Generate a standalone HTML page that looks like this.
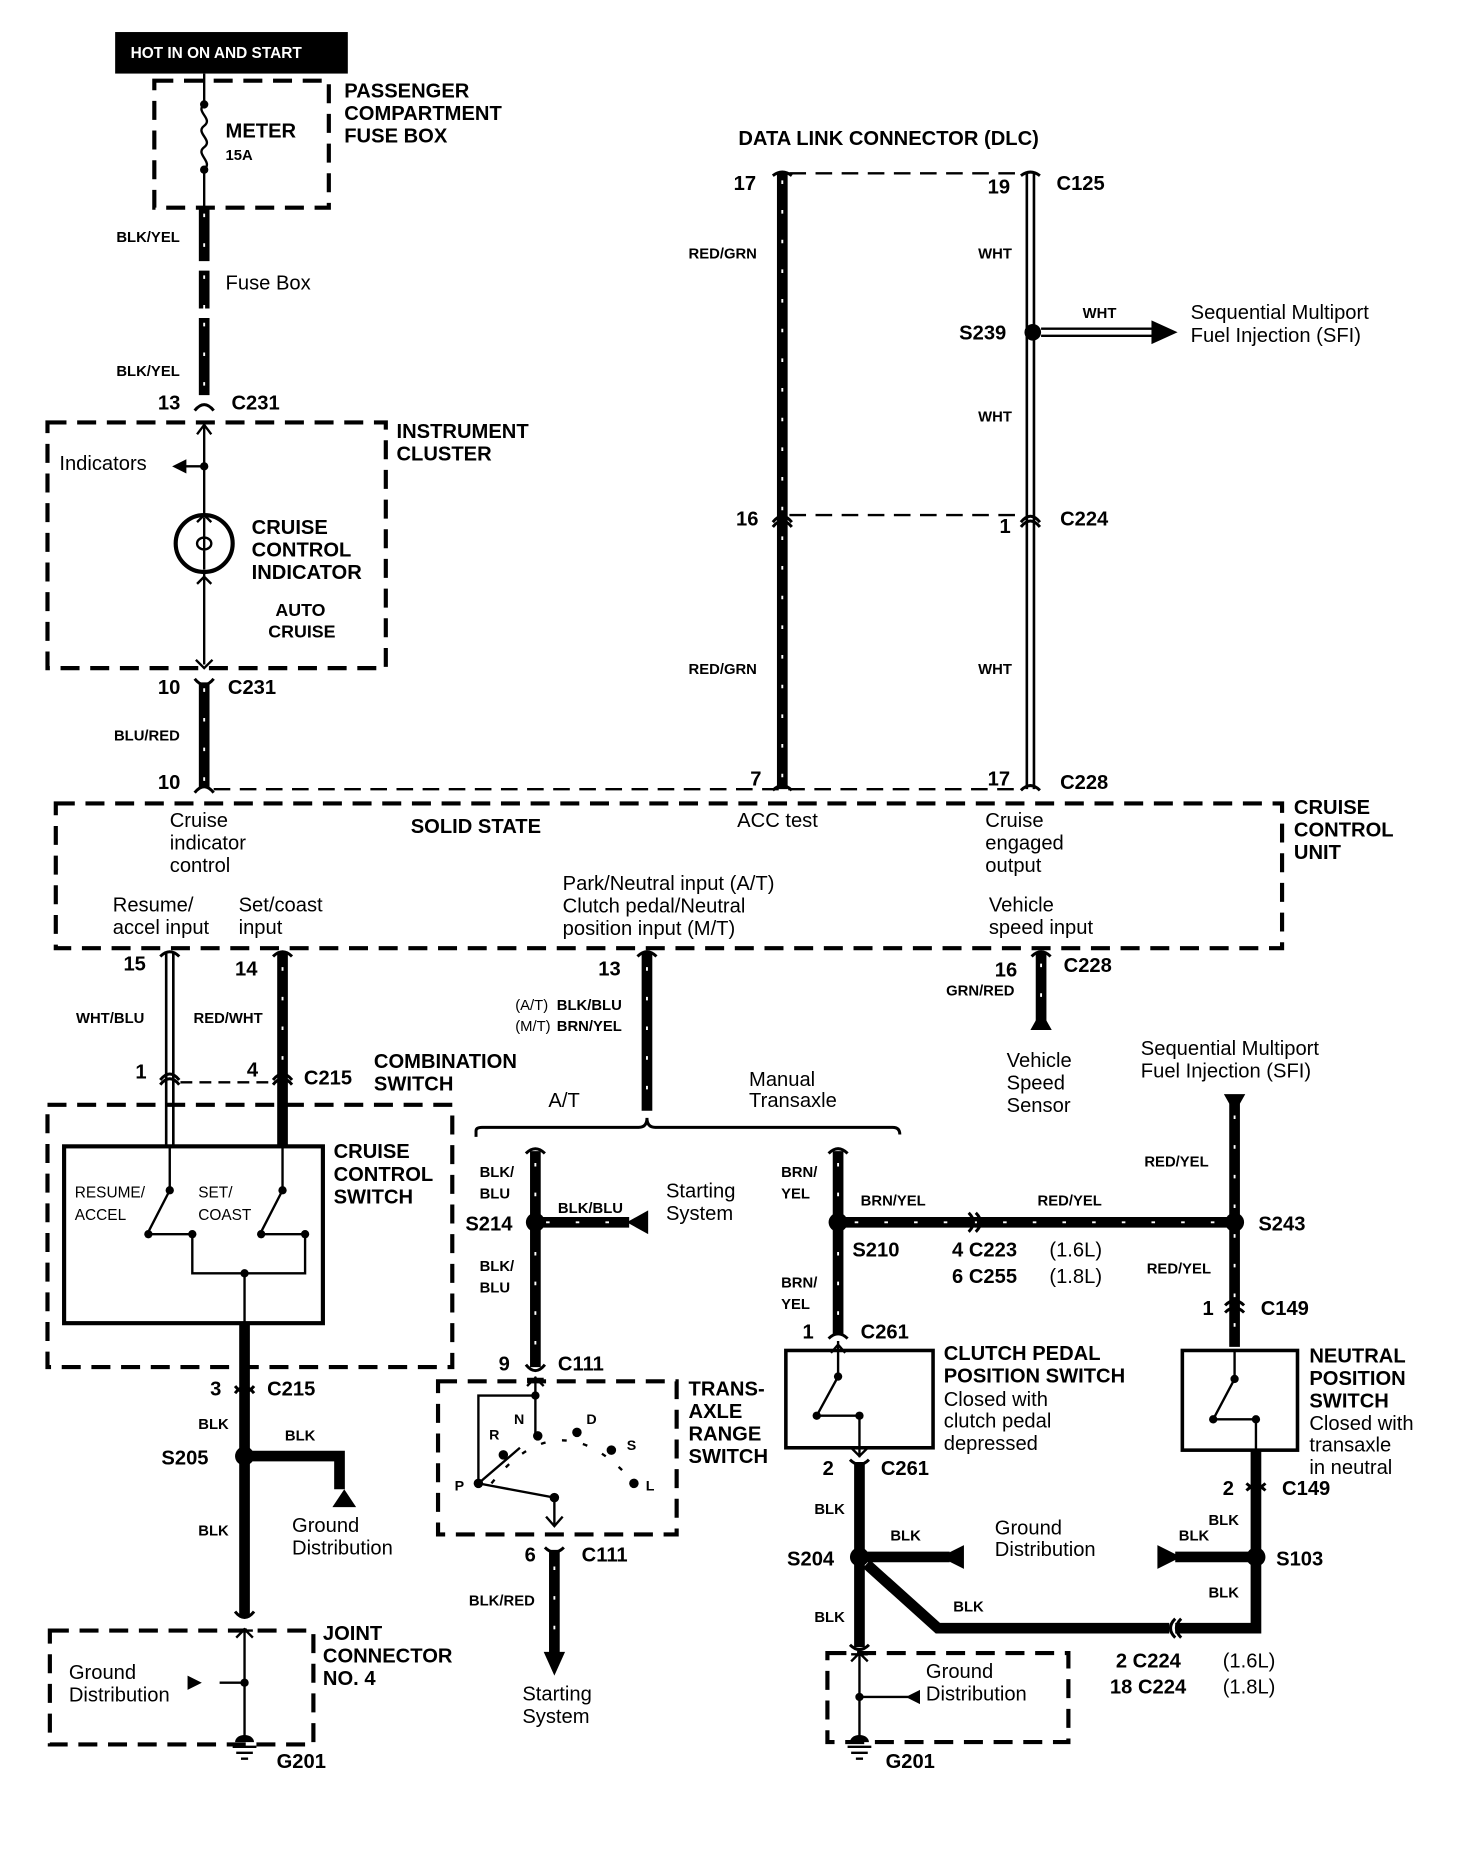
<!DOCTYPE html>
<html><head><meta charset="utf-8"><style>
html,body{margin:0;padding:0;background:#fff}
svg{display:block}
text{font-family:"Liberation Sans",Arial,sans-serif;fill:#000}
.b{font-weight:bold;font-size:17px}
.s{font-weight:bold;font-size:12.5px}
.n{font-size:17px}
.d{fill:none;stroke:#000;stroke-width:3.5;stroke-dasharray:16 9}
.w{stroke:#000;stroke-width:9;fill:none}
.wd{stroke:#fff;stroke-width:1.6;stroke-dasharray:3 22;fill:none}
.t{stroke:#000;stroke-width:2;fill:none}
.c{stroke:#000;stroke-width:2.5;fill:none}
</style></head><body>
<svg width="1472" height="1856" viewBox="0 0 1240 1564" preserveAspectRatio="none" xmlns="http://www.w3.org/2000/svg">
<!-- top -->
<rect x="97" y="27" width="196" height="35" fill="#000"/>
<text x="110" y="49" style="font-size:13px;font-weight:bold;fill:#fff">HOT IN ON AND START</text>
<rect x="130" y="68" width="147" height="107" class="d"/>
<path class="t" d="M172 62V88M172 143V175M172 88c-8 6 8 12 0 18s8 12 0 18s8 12 0 19"/>
<circle cx="172" cy="88" r="3.5"/><circle cx="172" cy="143" r="3.5"/>
<text x="190" y="116" class="b">METER</text><text x="190" y="135" class="s">15A</text>
<text x="290" y="82" class="b">PASSENGER</text><text x="290" y="101" class="b">COMPARTMENT</text><text x="290" y="120" class="b">FUSE BOX</text>
<path class="w" d="M172 175V220M172 228V260M172 268V333"/>
<path class="wd" d="M172 180V220M172 232V260M172 272V333"/>
<text x="98" y="204" class="s">BLK/YEL</text><text x="190" y="244" class="n">Fuse Box</text>
<text x="98" y="317" class="s">BLK/YEL</text>
<text x="133" y="345" class="b">13</text><text x="195" y="345" class="b">C231</text>
<path class="c" d="M164 346Q172 336 180 346"/>
<!-- instrument cluster -->
<rect x="40" y="356" width="285" height="207" class="d"/>
<text x="334" y="369" class="b">INSTRUMENT</text><text x="334" y="388" class="b">CLUSTER</text>
<path class="t" d="M172 356V433M172 482V560M166 366L172 358L178 366M165 556L172 563L179 556M166 440L172 434L178 440M166 492L172 486L178 492"/>
<circle cx="172" cy="393" r="3.5"/><path class="t" d="M172 393H155"/><path d="M145 393L157 387V399Z"/>
<text x="50" y="396" class="n">Indicators</text>
<circle cx="172" cy="458" r="24" fill="none" stroke="#000" stroke-width="3.5"/>
<path class="t" d="M172 436V480M166 458a6 5 0 1 0 12 0a6 5 0 1 0-12 0"/>
<text x="212" y="450" class="b">CRUISE</text><text x="212" y="469" class="b">CONTROL</text><text x="212" y="488" class="b">INDICATOR</text>
<text x="232" y="519" style="font-size:15px;font-weight:bold">AUTO</text><text x="226" y="537" style="font-size:15px;font-weight:bold">CRUISE</text>
<text x="133" y="585" class="b">10</text><text x="192" y="585" class="b">C231</text>
<path class="c" d="M164 572Q172 582 180 572"/>
<path class="w" d="M172 575V664"/><path class="wd" d="M172 580V660"/>
<text x="96" y="624" class="s">BLU/RED</text><text x="133" y="665" class="b">10</text>
<path class="c" d="M164 668Q172 658 180 668"/>
<!-- DLC -->
<text x="622" y="122" class="b">DATA LINK CONNECTOR (DLC)</text>
<path class="t" d="M665 146H862M665 434H862M180 665H862" stroke-dasharray="14 8"/>
<path class="w" d="M659 146V665"/><path class="wd" d="M659 152V662"/>
<path d="M865 146V665M871 146V665" stroke="#000" stroke-width="2.2" fill="none"/>
<path class="c" d="M651 148Q659 142 667 148M860 148Q868 142 876 148M651 440Q659 430 667 440M651 444Q659 434 667 444M860 440Q868 430 876 440M860 444Q868 434 876 444M651 666Q659 658 667 666M860 666Q868 658 876 666"/>
<text x="618" y="160" class="b">17</text><text x="832" y="163" class="b">19</text><text x="890" y="160" class="b">C125</text>
<text x="580" y="218" class="s">RED/GRN</text><text x="824" y="218" class="s">WHT</text>
<circle cx="870" cy="280" r="7"/><text x="808" y="286" class="b">S239</text>
<path d="M877 277H975M877 283H975" stroke="#000" stroke-width="2" fill="none"/><path d="M970 270L992 280L970 290Z"/>
<text x="912" y="268" class="s">WHT</text>
<text x="1003" y="269" class="n">Sequential Multiport</text><text x="1003" y="288" class="n">Fuel Injection (SFI)</text>
<text x="824" y="355" class="s">WHT</text>
<text x="620" y="443" class="b">16</text><text x="842" y="449" class="b">1</text><text x="893" y="443" class="b">C224</text>
<text x="580" y="568" class="s">RED/GRN</text><text x="824" y="568" class="s">WHT</text>
<text x="632" y="662" class="b">7</text><text x="832" y="662" class="b">17</text><text x="893" y="665" class="b">C228</text>
<!-- CCU -->
<rect x="47" y="677" width="1033" height="122" class="d"/>
<text x="143" y="697" class="n">Cruise</text><text x="143" y="716" class="n">indicator</text><text x="143" y="735" class="n">control</text>
<text x="346" y="702" class="b">SOLID STATE</text>
<text x="621" y="697" class="n">ACC  test</text>
<text x="830" y="697" class="n">Cruise</text><text x="830" y="716" class="n">engaged</text><text x="830" y="735" class="n">output</text>
<text x="1090" y="686" class="b">CRUISE</text><text x="1090" y="705" class="b">CONTROL</text><text x="1090" y="724" class="b">UNIT</text>
<text x="95" y="768" class="n">Resume/</text><text x="95" y="787" class="n">accel input</text>
<text x="201" y="768" class="n">Set/coast</text><text x="201" y="787" class="n">input</text>
<text x="474" y="750" class="n">Park/Neutral input (A/T)</text><text x="474" y="769" class="n">Clutch pedal/Neutral</text><text x="474" y="788" class="n">position input (M/T)</text>
<text x="833" y="768" class="n">Vehicle</text><text x="833" y="787" class="n">speed input</text>
<!-- combination switch -->
<text x="104" y="818" class="b">15</text><text x="198" y="822" class="b">14</text>
<path d="M140 802V965M146 802V965" stroke="#000" stroke-width="2.2" fill="none"/>
<path class="w" d="M238 802V965"/><path class="wd" d="M238 815V900"/>
<path class="c" d="M135 806Q143 798 151 806M230 806Q238 798 246 806M135 910Q143 900 151 910M135 914Q143 904 151 914M230 910Q238 900 246 910M230 914Q238 904 246 914"/>
<text x="64" y="862" class="s">WHT/BLU</text><text x="163" y="862" class="s">RED/WHT</text>
<text x="114" y="909" class="b">1</text><text x="208" y="907" class="b">4</text><text x="256" y="914" class="b">C215</text>
<path class="t" d="M152 912H228" stroke-dasharray="10 6"/>
<text x="315" y="900" class="b">COMBINATION</text><text x="315" y="919" class="b">SWITCH</text>
<rect x="40" y="931" width="341" height="221" class="d"/>
<rect x="54" y="966" width="218" height="149" fill="none" stroke="#000" stroke-width="3.5"/>
<text x="281" y="976" class="b">CRUISE</text><text x="281" y="995" class="b">CONTROL</text><text x="281" y="1014" class="b">SWITCH</text>
<text x="63" y="1009" style="font-size:13px">RESUME/</text><text x="63" y="1028" style="font-size:13px">ACCEL</text>
<text x="167" y="1009" style="font-size:13px">SET/</text><text x="167" y="1028" style="font-size:13px">COAST</text>
<path class="t" d="M143 966V1003L125 1038M238 966V1003L220 1038M125 1040H162M220 1040H257" />
<path class="t" d="M162 1040V1073H257V1040M206 1073V1115" stroke-dasharray="none"/>
<circle cx="143" cy="1003" r="3.5"/><circle cx="238" cy="1003" r="3.5"/><circle cx="125" cy="1040" r="3.5"/><circle cx="162" cy="1040" r="3.5"/><circle cx="220" cy="1040" r="3.5"/><circle cx="257" cy="1040" r="3.5"/><circle cx="206" cy="1073" r="3.5"/>
<path class="w" d="M206 1115V1362M206 1227H286V1255"/>
<path d="M280 1270L290 1255L300 1270Z"/>
<path class="c" d="M198 1168Q206 1178 214 1168M198 1174Q206 1164 214 1174M198 1358Q206 1368 214 1358"/>
<text x="177" y="1176" class="b">3</text><text x="225" y="1176" class="b">C215</text>
<text x="167" y="1204" class="s">BLK</text><text x="240" y="1214" class="s">BLK</text>
<circle cx="206" cy="1227" r="8"/><text x="136" y="1234" class="b">S205</text>
<text x="246" y="1291" class="n">Ground</text><text x="246" y="1310" class="n">Distribution</text>
<text x="167" y="1294" class="s">BLK</text>
<rect x="42" y="1374" width="222" height="96" class="d"/>
<text x="272" y="1382" class="b">JOINT</text><text x="272" y="1401" class="b">CONNECTOR</text><text x="272" y="1420" class="b">NO. 4</text>
<path class="t" d="M206 1372V1465M199 1380L206 1373L213 1380M199 1374H213M185 1418H206" />
<path d="M158 1412L170 1418L158 1424Z"/><circle cx="206" cy="1418" r="3.5"/>
<path d="M198 1468a8 6 0 0 1 16 0Z"/><path class="t" d="M196 1472H216M199 1477H213M203 1482H209"/>
<text x="58" y="1415" class="n">Ground</text><text x="58" y="1434" class="n">Distribution</text>
<text x="233" y="1490" class="b">G201</text>
<!-- middle A/T -->
<path class="w" d="M545 802V936"/><path class="wd" d="M545 815V930"/>
<path class="c" d="M537 806Q545 798 553 806"/>
<text x="504" y="822" class="b">13</text>
<text x="434" y="851" class="s" style="font-weight:normal">(A/T)</text><text x="469" y="851" class="s">BLK/BLU</text>
<text x="434" y="869" class="s" style="font-weight:normal">(M/T)</text><text x="469" y="869" class="s">BRN/YEL</text>
<path class="c" d="M401 958V953Q401 950 406 950H538Q545 950 545 942Q545 950 552 950H752Q758 950 758 956"/>
<text x="462" y="933" class="n">A/T</text><text x="631" y="915" class="n">Manual</text><text x="631" y="933" class="n">Transaxle</text>
<path class="w" d="M451 970V1152M451 1030H530"/>
<path class="wd" d="M451 980V1150M460 1030H530"/>
<path d="M528 1030L546 1020V1040Z"/>
<path class="c" d="M443 972Q451 964 459 972M443 1150Q451 1160 459 1150"/>
<circle cx="451" cy="1030" r="8"/><text x="392" y="1037" class="b">S214</text>
<text x="404" y="992" class="s">BLK/</text><text x="404" y="1010" class="s">BLU</text>
<text x="470" y="1022" class="s">BLK/BLU</text>
<text x="561" y="1009" class="n">Starting</text><text x="561" y="1028" class="n">System</text>
<text x="404" y="1071" class="s">BLK/</text><text x="404" y="1089" class="s">BLU</text>
<text x="420" y="1155" class="b">9</text><text x="470" y="1155" class="b">C111</text>
<rect x="369" y="1164" width="201" height="129" class="d"/>
<text x="580" y="1176" class="b">TRANS-</text><text x="580" y="1195" class="b">AXLE</text><text x="580" y="1214" class="b">RANGE</text><text x="580" y="1233" class="b">SWITCH</text>
<path class="t" d="M451 1160V1210M444 1168L451 1161L458 1168M444 1162H458M451 1176H403V1250L438 1220M403 1250L467 1262V1285M460 1278L467 1286L474 1278"/>
<circle cx="451" cy="1176" r="3.5"/><circle cx="403" cy="1250" r="4"/><circle cx="467" cy="1262" r="4"/>
<path class="t" d="M414 1250Q470 1180 530 1245" stroke-dasharray="4 14"/>
<circle cx="424" cy="1226" r="4"/><circle cx="453" cy="1210" r="4"/><circle cx="486" cy="1207" r="4"/><circle cx="515" cy="1222" r="4"/><circle cx="534" cy="1250" r="4"/>
<text x="412" y="1213" style="font-size:12px;font-weight:bold">R</text><text x="433" y="1200" style="font-size:12px;font-weight:bold">N</text><text x="494" y="1200" style="font-size:12px;font-weight:bold">D</text><text x="528" y="1222" style="font-size:12px;font-weight:bold">S</text><text x="544" y="1256" style="font-size:12px;font-weight:bold">L</text><text x="383" y="1256" style="font-size:12px;font-weight:bold">P</text>
<text x="442" y="1316" class="b">6</text><text x="490" y="1316" class="b">C111</text>
<path class="c" d="M459 1304Q467 1312 475 1304"/>
<path class="w" d="M467 1306V1395"/><path class="wd" d="M467 1320V1390"/><path d="M458 1392L476 1392L467 1412Z"/>
<text x="395" y="1353" class="s">BLK/RED</text>
<text x="440" y="1433" class="n">Starting</text><text x="440" y="1452" class="n">System</text>
<!-- M/T branch -->
<path class="w" d="M706 970V1125M706 1030H1040M1040 930V1135"/>
<path class="wd" d="M706 980V1120M720 1030H1035M1040 940V1130"/>
<path class="c" d="M698 972Q706 964 714 972M698 1128Q706 1120 714 1128M816 1022Q824 1030 816 1038M822 1022Q830 1030 822 1038M1032 1100Q1040 1092 1048 1100M1032 1106Q1040 1098 1048 1106"/>
<path d="M1031 922H1049L1040 938Z"/>
<text x="658" y="992" class="s">BRN/</text><text x="658" y="1010" class="s">YEL</text>
<circle cx="706" cy="1030" r="8"/><text x="718" y="1059" class="b">S210</text>
<text x="725" y="1016" class="s">BRN/YEL</text><text x="874" y="1016" class="s">RED/YEL</text>
<text x="802" y="1059" class="b">4  C223</text><text x="884" y="1059" class="n">(1.6L)</text>
<text x="802" y="1081" class="b">6  C255</text><text x="884" y="1081" class="n">(1.8L)</text>
<circle cx="1040" cy="1030" r="8"/><text x="1060" y="1037" class="b">S243</text>
<text x="961" y="889" class="n">Sequential Multiport</text><text x="961" y="908" class="n">Fuel Injection (SFI)</text>
<text x="964" y="983" class="s">RED/YEL</text><text x="966" y="1073" class="s">RED/YEL</text>
<text x="1013" y="1108" class="b">1</text><text x="1062" y="1108" class="b">C149</text>
<text x="658" y="1085" class="s">BRN/</text><text x="658" y="1103" class="s">YEL</text>
<text x="676" y="1128" class="b">1</text><text x="725" y="1128" class="b">C261</text>
<!-- VSS -->
<text x="838" y="823" class="b">16</text><text x="896" y="819" class="b">C228</text>
<text x="797" y="839" class="s">GRN/RED</text>
<path class="w" d="M877 802V860"/><path class="wd" d="M877 812V855"/><path class="c" d="M869 806Q877 798 885 806"/>
<path d="M868 868L877 852L886 868Z"/>
<text x="848" y="899" class="n">Vehicle</text><text x="848" y="918" class="n">Speed</text><text x="848" y="937" class="n">Sensor</text>
<!-- clutch switch -->
<rect x="662" y="1138" width="124" height="82" fill="none" stroke="#000" stroke-width="3"/>
<path class="t" d="M706 1130V1160L688 1193M688 1193H724M724 1193V1228M700 1140L706 1133L712 1140M717 1220L724 1227L731 1220"/>
<circle cx="706" cy="1160" r="3.5"/><circle cx="688" cy="1193" r="3.5"/><circle cx="724" cy="1193" r="3.5"/>
<text x="795" y="1146" class="b">CLUTCH PEDAL</text><text x="795" y="1165" class="b">POSITION SWITCH</text>
<text x="795" y="1185" class="n">Closed with</text><text x="795" y="1203" class="n">clutch pedal</text><text x="795" y="1222" class="n">depressed</text>
<text x="693" y="1243" class="b">2</text><text x="742" y="1243" class="b">C261</text>
<path class="c" d="M716 1230Q724 1238 732 1230"/>
<path class="w" d="M724 1232V1388M724 1312H800M730 1318L790 1372H985M1058 1222V1372H990M1058 1312H990"/>
<path d="M798 1302L812 1302V1322L798 1322L790 1312Z" fill="none"/>
<path d="M792 1312L812 1302V1322Z"/>
<path d="M975 1302L995 1312L975 1322Z"/>
<path class="c" d="M995 1364Q987 1372 995 1380M990 1364Q982 1372 990 1380"/>
<circle cx="724" cy="1312" r="8"/><text x="663" y="1319" class="b">S204</text>
<text x="686" y="1276" class="s">BLK</text><text x="750" y="1298" class="s">BLK</text>
<text x="838" y="1293" class="n">Ground</text><text x="838" y="1311" class="n">Distribution</text>
<text x="803" y="1358" class="s">BLK</text><text x="686" y="1367" class="s">BLK</text>
<text x="940" y="1405" class="b">2   C224</text><text x="1030" y="1405" class="n">(1.6L)</text>
<text x="935" y="1427" class="b">18  C224</text><text x="1030" y="1427" class="n">(1.8L)</text>
<path class="c" d="M716 1386Q724 1394 732 1386"/>
<rect x="697" y="1393" width="203" height="75" class="d"/>
<path class="t" d="M724 1392V1465M717 1400L724 1393L731 1400M717 1394H731M724 1430H765"/>
<path d="M775 1424L763 1430L775 1436Z"/><circle cx="724" cy="1430" r="3.5"/>
<path d="M716 1468a8 6 0 0 1 16 0Z"/><path class="t" d="M714 1472H734M717 1477H731M721 1482H727"/>
<text x="780" y="1414" class="n">Ground</text><text x="780" y="1433" class="n">Distribution</text>
<text x="746" y="1490" class="b">G201</text>
<!-- neutral switch -->
<rect x="996" y="1138" width="97" height="84" fill="none" stroke="#000" stroke-width="3"/>
<path class="t" d="M1040 1138V1162L1022 1196M1022 1196H1058M1058 1196V1224"/>
<circle cx="1040" cy="1162" r="3.5"/><circle cx="1022" cy="1196" r="3.5"/><circle cx="1058" cy="1196" r="3.5"/>
<text x="1103" y="1148" class="b">NEUTRAL</text><text x="1103" y="1167" class="b">POSITION</text><text x="1103" y="1186" class="b">SWITCH</text>
<text x="1103" y="1205" class="n">Closed with</text><text x="1103" y="1223" class="n">transaxle</text><text x="1103" y="1242" class="n">in neutral</text>
<text x="1030" y="1260" class="b">2</text><text x="1080" y="1260" class="b">C149</text>
<path class="c" d="M1050 1250Q1058 1258 1066 1250M1050 1256Q1058 1248 1066 1256"/>
<text x="1018" y="1285" class="s">BLK</text><text x="993" y="1298" class="s">BLK</text>
<circle cx="1058" cy="1312" r="8"/><text x="1075" y="1319" class="b">S103</text>
<text x="1018" y="1346" class="s">BLK</text>
</svg>
</body></html>
